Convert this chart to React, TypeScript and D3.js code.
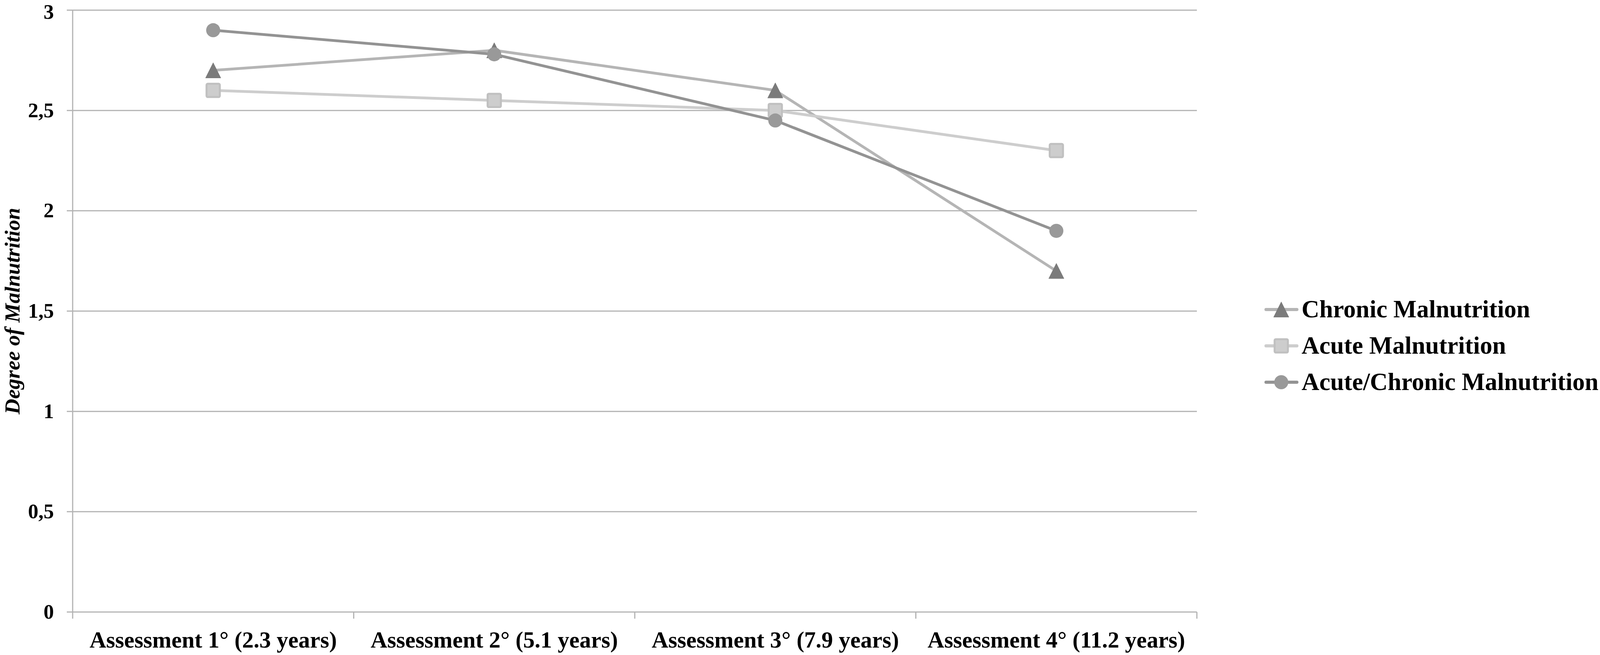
import * as d3 from "d3"

const categories = [
  "Assessment 1° (2.3 years)",
  "Assessment 2° (5.1 years)",
  "Assessment 3° (7.9 years)",
  "Assessment 4° (11.2 years)",
]
const chronic = [2.7, 2.8, 2.6, 1.7]
const acute = [2.6, 2.55, 2.5, 2.3]
const acuteChronic = [2.9, 2.78, 2.45, 1.9]
const yTicks = [0, 0.5, 1, 1.5, 2, 2.5, 3]
const yTickLabels = ["0", "0,5", "1", "1,5", "2", "2,5", "3"]

const seriesList = [
  { name: "Chronic Malnutrition", values: chronic, line: "#b5b5b5", marker: "triangle" },
  { name: "Acute Malnutrition", values: acute, line: "#cdcdcd", marker: "square" },
  { name: "Acute/Chronic Malnutrition", values: acuteChronic, line: "#939393", marker: "circle" },
]

const W = 4106
const H = 1676
const left = 186
const right = 3064
const top = 26
const bottom = 1566
const font = "'Liberation Serif', 'Times New Roman', serif"

function Marker({ kind, cx, cy }: { kind: string; cx: number; cy: number }) {
  if (kind === "triangle") {
    const s = 39
    return (
      <path
        d={`M${cx},${cy - s / 2} L${cx + s / 2},${cy + s / 2} L${cx - s / 2},${cy + s / 2} Z`}
        fill="#7b7b7b"
        stroke="#7b7b7b"
        strokeWidth={1}
        strokeLinejoin="round"
      />
    )
  }
  if (kind === "square") {
    const s = 34
    return (
      <rect x={cx - s / 2} y={cy - s / 2} width={s} height={s} rx={3}
        fill="#cdcdcd" stroke="#c0c0c0" strokeWidth={5} />
    )
  }
  return <circle cx={cx} cy={cy} r={18} fill="#999999" />
}

export default function App() {
  const x = d3.scaleBand<string>().domain(categories).range([left, right]).padding(0)
  const cx = (c: string) => (x(c) ?? 0) + x.bandwidth() / 2
  const y = d3.scaleLinear().domain([0, 3]).range([bottom, top])

  const line = d3.line<number>()
    .x((_, i) => cx(categories[i]))
    .y(d => y(d))

  const boundaries = [...categories.map(c => x(c) ?? 0), right]

  return (
    <svg width={W} height={H} style={{ position: "absolute", left: 0, top: 0, background: "#fff" }}
      fontFamily={font}>
      <rect width={W} height={H} fill="#fff" />
      {/* gridlines */}
      {yTicks.map(t => (
        <line key={t} x1={left - 15} x2={right} y1={y(t)} y2={y(t)} stroke="#b3b3b3" strokeWidth={3} />
      ))}
      {/* y axis */}
      <line x1={left} x2={left} y1={top} y2={bottom} stroke="#b3b3b3" strokeWidth={3} />
      {/* x ticks */}
      {boundaries.map((b, i) => (
        <line key={i} x1={b} x2={b} y1={bottom} y2={bottom + 17} stroke="#b3b3b3" strokeWidth={3} />
      ))}
      {/* y tick labels (top one nudged down so it stays inside the page) */}
      {yTicks.map((t, i) => (
        <text key={t} x={138} y={Math.max(y(t) + 17, 48)} textAnchor="end" fontSize={53} fontWeight="bold">
          {yTickLabels[i]}
        </text>
      ))}
      {/* x labels */}
      {categories.map(c => (
        <text key={c} x={cx(c)} y={1657} textAnchor="middle" fontSize={59} fontWeight="bold">
          {c}
        </text>
      ))}
      {/* y title */}
      <text transform={`translate(50,796) rotate(-90)`} textAnchor="middle" fontSize={55}
        fontWeight="bold" fontStyle="italic">
        Degree of Malnutrition
      </text>
      {/* series */}
      {seriesList.map(s => (
        <g key={s.name}>
          <path d={line(s.values) ?? ""} fill="none" stroke={s.line} strokeWidth={7} strokeLinejoin="round" />
          {s.values.map((v, i) => (
            <Marker key={i} kind={s.marker} cx={cx(categories[i])} cy={y(v)} />
          ))}
        </g>
      ))}
      {/* legend */}
      {seriesList.map((s, i) => {
        const ly = 792 + i * 93
        return (
          <g key={s.name}>
            <line x1={3241} x2={3320} y1={ly} y2={ly} stroke={s.line} strokeWidth={8} strokeLinecap="round" />
            <Marker kind={s.marker} cx={3280} cy={ly} />
            <text x={3332} y={ly + 20} fontSize={63} fontWeight="bold">{s.name}</text>
          </g>
        )
      })}
    </svg>
  )
}
